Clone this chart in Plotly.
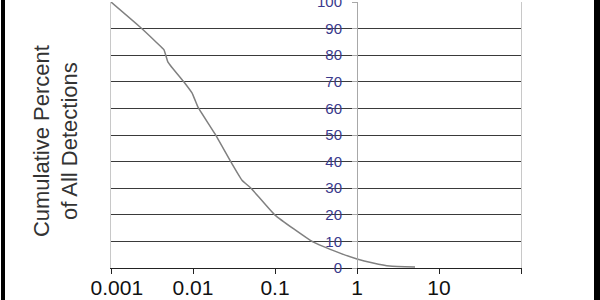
import plotly.graph_objects as go

# Data
size_values = [0.001, 0.00226, 0.00364, 0.00443, 0.00495, 0.00776, 0.00972, 0.01057,
               0.0115, 0.01855, 0.0291, 0.0396, 0.051, 0.1, 0.29, 0.62, 1.0, 1.57,
               2.5, 5.1]
cum_percent = [100, 90.6, 84.6, 82.0, 77.4, 69.9, 65.8, 63.2, 60.5, 50.4, 39.8, 33.0,
               30.0, 19.9, 9.8, 5.6, 3.4, 1.9, 0.75, 0.4]

x_tickvals = [0.001, 0.01, 0.1, 1, 10, 100]
x_ticktext = ["\u00a0\u00a00.001", "0.01", "0.1", "1", "10", ""]
y_tickvals = [0, 10, 20, 30, 40, 50, 60, 70, 80, 90, 100]
y_ticktext = [str(v) for v in y_tickvals]

fig = go.Figure()
fig.add_trace(go.Scatter(x=size_values, y=cum_percent, mode="lines",
                         line=dict(color="#808080", width=1.5, shape="spline", smoothing=0.4),
                         showlegend=False, hoverinfo="skip"))
fig.add_trace(go.Scatter(x=[None], y=[None], yaxis="y2", mode="lines",
                         showlegend=False, hoverinfo="skip"))

L, R, T, B = 111, 79, 2, 32
W, H = 600, 300
pw = W - L - R
ph = H - T - B

fig.update_layout(
    width=W, height=H,
    margin=dict(l=L, r=R, t=T, b=B, pad=0, autoexpand=False),
    paper_bgcolor="white", plot_bgcolor="white",
    font=dict(family="Arial, Liberation Sans, sans-serif"),
    xaxis=dict(type="log", range=[-3, 2], tickvals=x_tickvals, ticktext=x_ticktext,
               showgrid=False, zeroline=False, showline=True, linecolor="#222222",
               linewidth=1, ticks="outside", ticklen=5, tickcolor="#222222",
               ticklabelstandoff=-4, automargin=False,
               tickfont=dict(size=21, color="#111111")),
    yaxis=dict(range=[0, 100], tickvals=y_tickvals, showticklabels=False,
               showgrid=True, gridcolor="#3a3a3a", gridwidth=1, zeroline=False,
               showline=True, mirror=True, linecolor="#c8c8c8", ticks="",
               automargin=False),
    yaxis2=dict(range=[0, 100], overlaying="y", anchor="free", position=0.6,
                side="left", tickvals=y_tickvals, ticktext=y_ticktext,
                showgrid=False, zeroline=False, showline=True, linecolor="#a8a8a8",
                ticks="outside", ticklen=5, tickcolor="#a8a8a8",
                ticklabelstandoff=7, ticklabeloverflow="allow", automargin=False,
                tickfont=dict(size=15, color="#3a3a8c")),
    annotations=[dict(text="Cumulative Percent<br>of All Detections",
                      xref="paper", yref="paper", x=0, y=0.477,
                      xanchor="right", yanchor="middle", xshift=-26,
                      textangle=-90, showarrow=False,
                      font=dict(size=22, color="#333333"))],
    shapes=[
        dict(type="rect", xref="paper", yref="paper",
             x0=(1 - L) / pw, x1=(5 - L) / pw, y0=-(B + 5) / ph, y1=(H - B + 5) / ph,
             fillcolor="black", line=dict(width=0), layer="above"),
        dict(type="rect", xref="paper", yref="paper",
             x0=(594 - L) / pw, x1=(600 - L) / pw, y0=-(B + 5) / ph, y1=(H - B + 5) / ph,
             fillcolor="black", line=dict(width=0), layer="above"),
    ],
)

fig.write_html("out.html")
